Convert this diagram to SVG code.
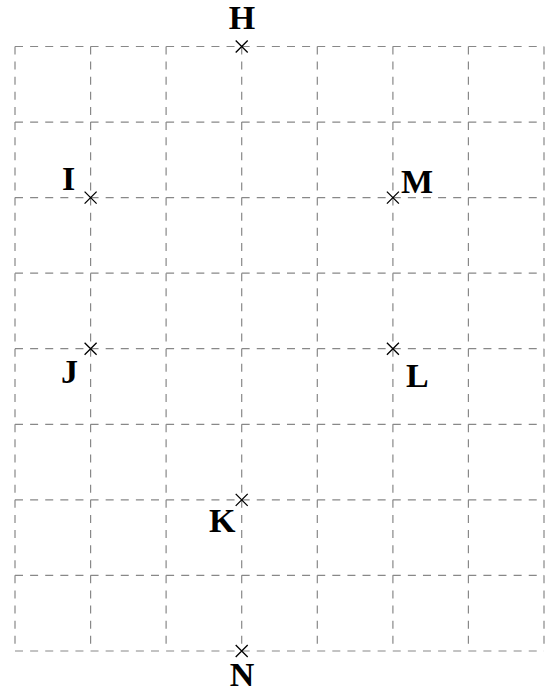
<svg xmlns="http://www.w3.org/2000/svg" width="545" height="692" viewBox="0 0 545 692">
<style>
.g{stroke:#888;stroke-width:1.2;stroke-dasharray:8 7.11;fill:none}
.x{stroke:#000;stroke-width:1.3;fill:none}
.t{font-family:"Liberation Serif","Times New Roman",serif;font-weight:bold;font-size:34px;fill:#000}
</style>
<rect width="545" height="692" fill="#fff"/>
<g id="grid">
<path class="g" d="M15 46.5H544M15 122.1H544M15 197.6H544M15 273.2H544M15 348.7H544M15 424.3H544M15 499.9H544M15 575.4H544M15 651H544"/>
<path class="g" d="M15 46.5V651M90.6 46.5V651M166.1 46.5V651M241.7 46.5V651M317.3 46.5V651M392.9 46.5V651M468.4 46.5V651M544 46.5V651"/>
</g>
<defs><path id="cross" class="x" d="M-6 -6L6 6M-6 6L6 -6"/></defs>
<g id="H"><use href="#cross" x="241.7" y="46.5"/><text class="t" x="242" y="29" text-anchor="middle">H</text></g>
<g id="I"><use href="#cross" x="90.6" y="197.6"/><text class="t" x="62" y="190">I</text></g>
<g id="M"><use href="#cross" x="392.9" y="197.6"/><text class="t" x="401" y="193">M</text></g>
<g id="J"><use href="#cross" x="90.6" y="348.7"/><text class="t" x="61" y="383">J</text></g>
<g id="L"><use href="#cross" x="392.9" y="348.7"/><text class="t" x="406" y="387">L</text></g>
<g id="K"><use href="#cross" x="241.7" y="499.9"/><text class="t" x="209" y="532">K</text></g>
<g id="N"><use href="#cross" x="241.7" y="651"/><text class="t" x="242" y="686" text-anchor="middle">N</text></g>
</svg>
